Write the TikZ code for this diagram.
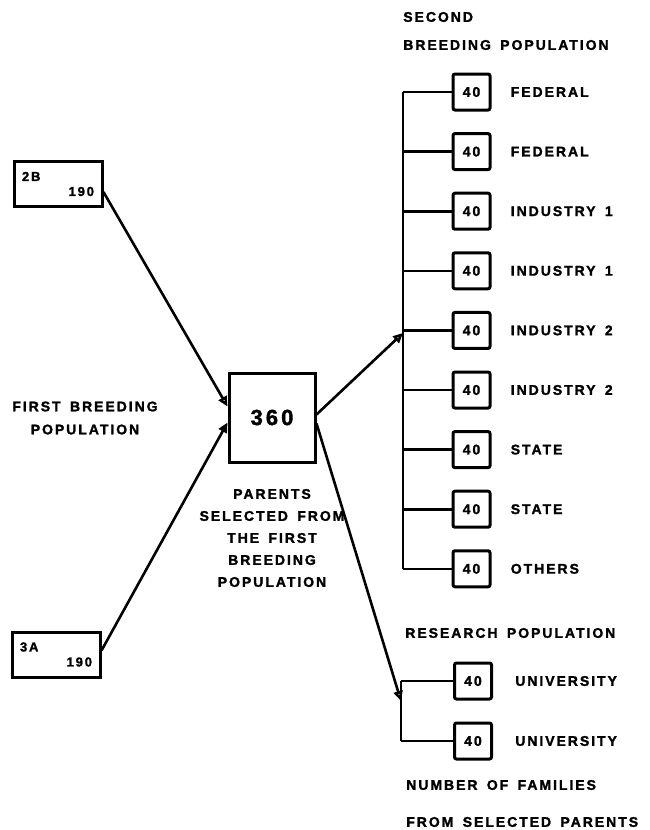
\documentclass[tikz,border=0pt]{standalone}
\usepackage{fontspec}
\setmainfont{Liberation Sans}[LetterSpace=14, WordSpace=1.6, BoldFeatures={FakeBold=1.6}]
\usepackage{tikz}
\usetikzlibrary{positioning,arrows.meta}

\begin{document}
\begin{tikzpicture}[x=1pt, y=-1pt, line width=2.6pt]
    \tikzstyle{popbox} = [rectangle, draw, line width=3pt, minimum width=88pt, minimum height=45pt, text width=72pt, align=left, inner sep=7pt, font=\fontsize{13}{15}\selectfont\bfseries]
    \tikzstyle{parentbox} = [rectangle, draw, line width=3pt, minimum width=86pt, minimum height=89pt, font=\fontsize{22}{24}\selectfont\bfseries]
    \tikzstyle{famibox} = [rectangle, rounded corners=2pt, draw, line width=3pt, minimum width=37pt, minimum height=36pt, inner sep=0pt, font=\fontsize{14}{16}\selectfont\bfseries]
    \tikzstyle{famlabel} = [inner sep=0pt, font=\fontsize{14}{16}\selectfont\bfseries]
    \tikzstyle{title} = [inner sep=0pt, font=\fontsize{14}{17}\selectfont\bfseries]
    \tikzstyle{openarrow} = [-{Triangle[open, length=10pt, width=9pt]}]
    \tikzstyle{fullarrow} = [-{Triangle[length=10pt, width=9pt]}]

    \useasboundingbox (0,0) rectangle (649,830);

    % First breeding population
    \node [popbox] (pop2b) at (58,184) {2B\\\hspace*{\fill}190};
    \node [popbox] (pop3a) at (56,654.5) {3A\\\hspace*{\fill}190};
    \node [title, align=center, font=\fontsize{14}{23}\selectfont\bfseries] (firsttxt) at (85,418) {FIRST BREEDING\\POPULATION};

    % Selected parents
    \node [parentbox] (parents) at (272,417.5) {360};
    \node [title, align=center, font=\fontsize{14}{22}\selectfont\bfseries] (parentstxt) at (272,538) {PARENTS\\SELECTED FROM\\THE FIRST\\BREEDING\\POPULATION};

    \draw [openarrow] ([yshift=-8pt]pop2b.east) -- ([yshift=11pt]parents.west);
    \draw [fullarrow] ([yshift=4pt]pop3a.east) -- ([yshift=-5pt]parents.west);

    % Second breeding population
    \node [title, anchor=west, align=left, font=\fontsize{14}{28}\selectfont\bfseries] (secondtxt) at (402,31) {SECOND\\BREEDING POPULATION};
    \coordinate (trunk) at (403,0);
    \foreach \lab [count=\i] in {FEDERAL, FEDERAL, INDUSTRY 1, INDUSTRY 1, INDUSTRY 2, INDUSTRY 2, STATE, STATE, OTHERS} {
        \node [famibox] (fam\i) at (471.5,{92+59.6*(\i-1)}) {40};
        \node [famlabel, anchor=west, right=18pt of fam\i] (famlab\i) {\lab};
        \draw (fam\i.west -| trunk) -- (fam\i);
    }
    \draw (fam1.west -| trunk) -- (fam9.west -| trunk);
    \coordinate (secondin) at (403,333);
    \draw [openarrow] ([yshift=3pt]parents.east) -- (secondin);

    % Research population
    \node [title, anchor=west] (researchtxt) at (404,633) {RESEARCH POPULATION};
    \coordinate (trunkb) at (401,0);
    \node [famibox] (uni1) at (473,681) {40};
    \node [famibox] (uni2) at (473,741) {40};
    \node [famlabel, anchor=west, right=21pt of uni1] (unilab1) {UNIVERSITY};
    \node [famlabel, anchor=west, right=21pt of uni2] (unilab2) {UNIVERSITY};
    \draw (uni1.west -| trunkb) -- (uni1);
    \draw (uni2.west -| trunkb) -- (uni2);
    \draw (uni1.west -| trunkb) -- (uni2.west -| trunkb);
    \coordinate (researchin) at (401,701);
    \draw [openarrow] ([yshift=-6pt]parents.east) -- (researchin);

    \node [title, anchor=west, align=left, font=\fontsize{14}{37}\selectfont\bfseries] (famtxt) at (405,803.5) {NUMBER OF FAMILIES\\FROM SELECTED PARENTS};
\end{tikzpicture}
\end{document}
